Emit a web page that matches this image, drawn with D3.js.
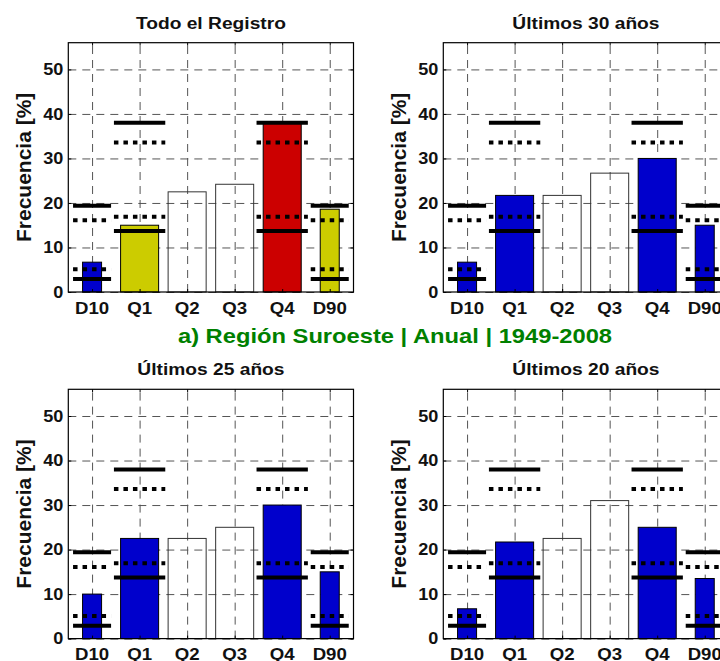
<html>
<head>
<script src="https://d3js.org/d3.v7.min.js"></script>
<style>
  body { margin: 0; background: #fff; }
  text { font-family: "Liberation Sans", Arial, sans-serif; font-weight: bold; fill: #111; }
  .grid line { stroke: #555; stroke-width: 1; stroke-dasharray: 8,6; }
  .grid .domain { stroke: none; }
  .ticks line { stroke: #000; }
  .ticks .domain { stroke: none; }
</style>
</head>
<body>
<svg id="chart" width="720" height="661"></svg>
<script>
// categories and panel titles
const categories = ["D10", "Q1", "Q2", "Q3", "Q4", "D90"];
const panelTitles = ["Todo el Registro", "Últimos 30 años", "Últimos 25 años", "Últimos 20 años"];
const suptitle = "a) Región Suroeste | Anual | 1949-2008";
const yTicks = [0, 10, 20, 30, 40, 50];

// frequency [%] per category, one array per period
const freqTodo = [6.7, 15, 22.5, 24.2, 38.3, 18.6];
const freq30 = [6.7, 21.7, 21.7, 26.7, 30, 15];
const freq25 = [10, 22.5, 22.5, 25, 30, 15];
const freq20 = [6.7, 21.7, 22.5, 31, 25, 13.5];

// class of each bar (b = blue, y = yellow, r = red, n = none)
const classTodo = ["b", "y", "n", "n", "r", "y"];
const class30 = ["b", "b", "n", "n", "b", "b"];
const class25 = ["b", "b", "n", "n", "b", "b"];
const class20 = ["b", "b", "n", "n", "b", "b"];

// reference thresholds (solid and dotted)
const decilSolid = [2.9, 19.4];
const decilDotted = [5.1, 16.1];
const quartilSolid = [13.7, 38];
const quartilDotted = [16.9, 33.6];
const refCategories = ["D10", "Q1", "Q4", "D90"];

const barColors = {b: "#0000cc", y: "#cccc00", r: "#cc0000", n: "none"};

const svg = d3.select("svg#chart");
const plotWidth = 285.2, plotHeight = 249.3;
const panelOrigins = [[68.3, 42.7], [443.3, 42.7], [68.3, 389.3], [443.3, 389.3]];
const stretch = 1.13; // the picture's text is a bit wider than tall

const x = d3.scaleLinear().domain([0.5, 6.5]).range([0, plotWidth]);
const y = d3.scaleLinear().domain([0, 56]).range([plotHeight, 0]);

function stretchedText(g, px, py, str, size, anchor) {
    return g.append("text")
        .attr("transform", `translate(${px},${py}) scale(${stretch},1)`)
        .attr("text-anchor", anchor)
        .style("font-size", size + "px")
        .text(str);
}

const panels = [
    {title: panelTitles[0], values: freqTodo, classes: classTodo},
    {title: panelTitles[1], values: freq30, classes: class30},
    {title: panelTitles[2], values: freq25, classes: class25},
    {title: panelTitles[3], values: freq20, classes: class20}
];

panels.forEach((p, i) => {
    const g = svg.append("g").attr("transform", `translate(${panelOrigins[i][0]},${panelOrigins[i][1]})`);

    // gridlines
    g.append("g").attr("class", "grid")
        .call(d3.axisLeft(y).tickValues(yTicks).tickSize(-plotWidth).tickFormat(""));
    g.append("g").attr("class", "grid")
        .attr("transform", `translate(0,${plotHeight})`)
        .call(d3.axisBottom(x).tickValues(d3.range(1, 7)).tickSize(-plotHeight).tickFormat(""));

    // bars
    p.values.forEach((v, k) => {
        const halfW = categories[k].startsWith("D") ? 0.2 : 0.4;
        const cls = p.classes[k];
        g.append("rect")
            .attr("x", x(k + 1 - halfW))
            .attr("width", x(k + 1 + halfW) - x(k + 1 - halfW))
            .attr("y", y(v))
            .attr("height", y(0) - y(v))
            .attr("fill", barColors[cls])
            .attr("stroke", cls === "n" ? "#333" : "#000")
            .attr("stroke-width", 1);
    });

    // reference lines
    refCategories.forEach(c => {
        const k = categories.indexOf(c) + 1;
        const isDecil = c.startsWith("D");
        const halfW = isDecil ? 0.4 : 0.54;
        const solid = isDecil ? decilSolid : quartilSolid;
        const dotted = isDecil ? decilDotted : quartilDotted;
        solid.forEach(v => {
            g.append("line")
                .attr("x1", x(k - halfW)).attr("x2", x(k + halfW))
                .attr("y1", y(v)).attr("y2", y(v))
                .attr("stroke", "#000").attr("stroke-width", 4);
        });
        dotted.forEach(v => {
            g.append("line")
                .attr("x1", x(k - halfW)).attr("x2", x(k + halfW))
                .attr("y1", y(v)).attr("y2", y(v))
                .attr("stroke", "#000").attr("stroke-width", 4)
                .attr("stroke-dasharray", "4.5,5");
        });
    });

    // inward ticks on all four sides
    g.append("g").attr("class", "ticks").attr("transform", `translate(0,${plotHeight})`)
        .call(d3.axisBottom(x).tickValues(d3.range(1, 7)).tickSize(-3).tickFormat(""));
    g.append("g").attr("class", "ticks")
        .call(d3.axisTop(x).tickValues(d3.range(1, 7)).tickSize(-3).tickFormat(""));
    g.append("g").attr("class", "ticks")
        .call(d3.axisLeft(y).tickValues(yTicks).tickSize(-3).tickFormat(""));
    g.append("g").attr("class", "ticks").attr("transform", `translate(${plotWidth},0)`)
        .call(d3.axisRight(y).tickValues(yTicks).tickSize(-3).tickFormat(""));

    // box
    g.append("rect")
        .attr("x", 0).attr("y", 0)
        .attr("width", plotWidth).attr("height", plotHeight)
        .attr("fill", "none").attr("stroke", "#000").attr("stroke-width", 1.2);

    // tick labels
    yTicks.forEach(t => {
        stretchedText(g, -5, y(t) + 5.7, t, 16, "end");
    });
    categories.forEach((c, k) => {
        stretchedText(g, x(k + 1), plotHeight + 21.5, c, 16.5, "middle");
    });

    // title and y label
    stretchedText(g, plotWidth / 2, -14.2, p.title, 17, "middle");
    g.append("text")
        .attr("transform", `translate(-37.3,${plotHeight / 2}) rotate(-90)`)
        .attr("text-anchor", "middle")
        .style("font-size", "21px")
        .text("Frecuencia [%]");
});

// figure title
svg.append("text")
    .attr("transform", `translate(395,343) scale(${stretch},1)`)
    .attr("text-anchor", "middle")
    .style("font-size", "21px")
    .style("fill", "#008000")
    .text(suptitle);
</script>
</body>
</html>
